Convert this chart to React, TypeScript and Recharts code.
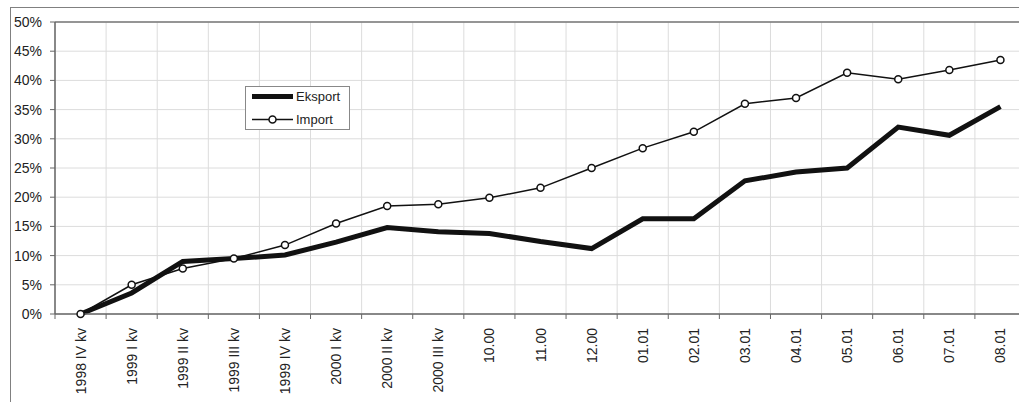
import React from 'react';
import { LineChart, Line, XAxis, YAxis, CartesianGrid, Legend, ReferenceLine } from 'recharts';

const categories = ['1998 IV kv', '1999 I kv', '1999 II kv', '1999 III kv', '1999 IV kv', '2000 I kv', '2000 II kv', '2000 III kv', '10.00', '11.00', '12.00', '01.01', '02.01', '03.01', '04.01', '05.01', '06.01', '07.01', '08.01'];
const eksportValues = [0, 3.6, 9.0, 9.5, 10.1, 12.3, 14.8, 14.1, 13.8, 12.4, 11.2, 16.3, 16.3, 22.8, 24.3, 25.0, 32.0, 30.6, 35.5];
const importValues = [0, 5.0, 7.8, 9.5, 11.8, 15.5, 18.5, 18.8, 19.9, 21.6, 25.0, 28.4, 31.2, 36.0, 37.0, 41.3, 40.2, 41.8, 43.5];
const yTicks = [0, 5, 10, 15, 20, 25, 30, 35, 40, 45, 50];

const data = categories.map((c, i) => ({ name: c, Eksport: eksportValues[i], Import: importValues[i] }));

const CHART_W = 1030;
const CHART_H = 402;
const MARGIN = { top: 22, right: 4, bottom: 0, left: 0 };
const Y_W = 55;
const PLOT_W = CHART_W - MARGIN.left - MARGIN.right - Y_W;
const BAND = PLOT_W / categories.length;
const FONT = 'Liberation Sans, Arial, sans-serif';

const XTick = (props: any) => {
  const { x, y, payload } = props;
  const ty = y + 14;
  return (
    <g>
      <line x1={x - BAND / 2} x2={x - BAND / 2} y1={y} y2={y + 5} stroke="#666" strokeWidth={1} />
      <text
        x={x}
        y={ty}
        transform={`rotate(-90, ${x}, ${ty})`}
        textAnchor="end"
        dominantBaseline="central"
        fontSize={14}
        fontFamily={FONT}
        fill="#222"
      >
        {payload.value}
      </text>
    </g>
  );
};

const LegendBox = () => (
  <div
    style={{
      width: 103,
      height: 42,
      border: '1px solid #888',
      background: '#fff',
      position: 'relative',
    }}
  >
    <svg width={103} height={42} style={{ position: 'absolute', left: 0, top: 0 }}>
      <line x1={6} x2={47} y1={9.5} y2={9.5} stroke="#111" strokeWidth={5} />
      <text x={50} y={14} fontSize={13} fontFamily={FONT} fill="#222">Eksport</text>
      <line x1={6} x2={47} y1={32.5} y2={32.5} stroke="#111" strokeWidth={1.5} />
      <circle cx={26.5} cy={32.5} r={3.5} fill="#fff" stroke="#111" strokeWidth={1.5} />
      <text x={50} y={37} fontSize={13} fontFamily={FONT} fill="#222">Import</text>
    </svg>
  </div>
);

export default function App() {
  return (
    <div style={{ position: 'absolute', left: 0, top: 0, width: 1019, height: 402, overflow: 'hidden', background: '#fff' }}>
      <div
        style={{
          position: 'absolute',
          left: 10,
          top: 7,
          width: 1030,
          height: 420,
          borderLeft: '1px solid #808080',
          borderTop: '1px solid #808080',
        }}
      />
      <div style={{ position: 'absolute', left: 0, top: 0 }}>
        <LineChart width={CHART_W} height={CHART_H} data={data} margin={MARGIN}>
          <CartesianGrid
            stroke="#dcdcdc"
            strokeWidth={1}
            verticalCoordinatesGenerator={({ offset }: any) =>
              categories.map((_, i) => offset.left + (offset.width * i) / categories.length)
            }
          />
          <ReferenceLine y={50} stroke="#777" strokeWidth={1.5} />
          <XAxis
            dataKey="name"
            scale="band"
            interval={0}
            height={88}
            tickSize={0}
            tickMargin={0}
            tick={<XTick />}
            axisLine={{ stroke: '#666', strokeWidth: 1.5 }}
            tickLine={false}
          />
          <YAxis
            width={Y_W}
            domain={[0, 50]}
            ticks={yTicks}
            tickFormatter={(v: number) => `${v}%`}
            tick={{ fontSize: 14, fontFamily: FONT, fill: '#222' }}
            tickSize={5}
            tickMargin={8}
            axisLine={{ stroke: '#666', strokeWidth: 1.5 }}
            tickLine={{ stroke: '#666' }}
          />
          <Legend
            layout="horizontal"
            verticalAlign="middle"
            align="center"
            content={() => <LegendBox />}
            wrapperStyle={{ position: 'absolute', left: 245, top: 86, width: 105, height: 44 }}
          />
          <Line
            type="linear"
            dataKey="Eksport"
            stroke="#111"
            strokeWidth={5}
            dot={false}
            activeDot={false}
            isAnimationActive={false}
          />
          <Line
            type="linear"
            dataKey="Import"
            stroke="#111"
            strokeWidth={1.5}
            dot={{ r: 3.5, fill: '#fff', stroke: '#111', strokeWidth: 1.5 }}
            activeDot={false}
            isAnimationActive={false}
          />
        </LineChart>
      </div>
    </div>
  );
}
